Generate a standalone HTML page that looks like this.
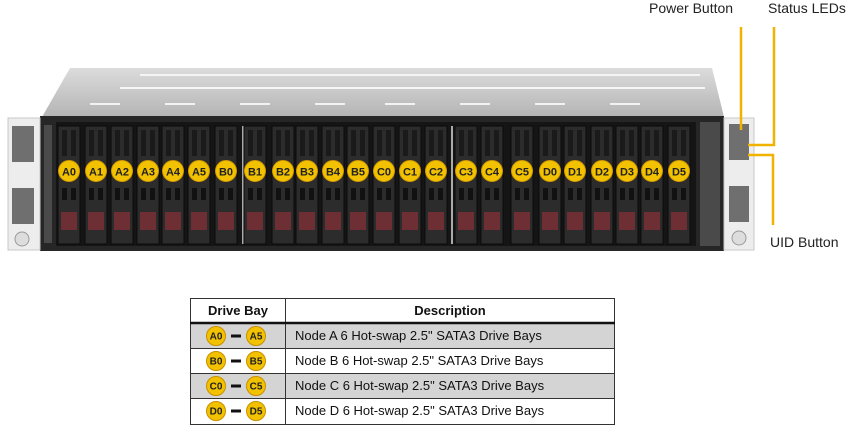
<!DOCTYPE html>
<html><head><style>
body{margin:0;background:#fff;width:866px;height:438px;overflow:hidden;font-family:"Liberation Sans",sans-serif}
</style></head><body>
<svg width="866" height="438" viewBox="0 0 866 438" xmlns="http://www.w3.org/2000/svg" font-family="Liberation Sans, sans-serif">
<defs>
<linearGradient id="top" x1="0" y1="0" x2="0" y2="1"><stop offset="0" stop-color="#dcdcdc"/><stop offset="1" stop-color="#b4b4b4"/></linearGradient>
</defs>
<polygon points="70,68 712,68 724,117 42,117" fill="url(#top)"/>
<line x1="140" y1="75" x2="700" y2="75" stroke="#f4f4f4" stroke-width="2"/>
<line x1="120" y1="88" x2="705" y2="88" stroke="#f6f6f6" stroke-width="2"/>
<g stroke="#f2f2f2" stroke-width="2">
<line x1="90" y1="104" x2="120" y2="104"/><line x1="165" y1="104" x2="195" y2="104"/><line x1="240" y1="104" x2="270" y2="104"/><line x1="315" y1="104" x2="345" y2="104"/><line x1="385" y1="104" x2="415" y2="104"/><line x1="460" y1="104" x2="490" y2="104"/><line x1="535" y1="104" x2="565" y2="104"/><line x1="610" y1="104" x2="640" y2="104"/>
</g>
<rect x="40" y="116" width="684" height="135" fill="#262626"/>
<rect x="56" y="122" width="640" height="124" fill="#151515"/>
<g fill="#4a4a4a">
<rect x="44" y="125" width="8" height="118"/>
<rect x="700" y="122" width="20" height="124"/>
</g>
<rect x="8" y="118" width="32" height="132" fill="#ededed" stroke="#c8c8c8"/>
<rect x="12" y="126" width="22" height="36" fill="#6f6f6f"/>
<rect x="12" y="188" width="22" height="36" fill="#6f6f6f"/>
<circle cx="22" cy="239" r="7" fill="#ddd" stroke="#999"/>
<rect x="724" y="118" width="30" height="132" fill="#ededed" stroke="#c8c8c8"/>
<rect x="729" y="124" width="20" height="36" fill="#6f6f6f"/>
<rect x="729" y="186" width="20" height="36" fill="#6f6f6f"/>
<circle cx="739" cy="238" r="7" fill="#ddd" stroke="#999"/>
<g id="bays"></g>
<g stroke="#f0b400" stroke-width="2.5" fill="none">
<line x1="741" y1="27" x2="741" y2="130"/>
<polyline points="774,27 774,145 748,145"/>
<polyline points="748,155 773,155 773,225"/>
</g>
<g font-size="14" fill="#222">
<text x="649" y="13">Power Button</text>
<text x="768" y="13">Status LEDs</text>
<text x="770" y="247">UID Button</text>
</g>
<rect x="190" y="323" width="425" height="25" fill="#d4d4d4"/>
<rect x="190" y="373" width="425" height="25" fill="#d4d4d4"/>
<g stroke="#333" stroke-width="1" fill="none">
<rect x="190.5" y="298.5" width="424" height="126"/>
<line x1="285.5" y1="298" x2="285.5" y2="425"/>
<line x1="190" y1="348.5" x2="615" y2="348.5"/>
<line x1="190" y1="373.5" x2="615" y2="373.5"/>
<line x1="190" y1="398.5" x2="615" y2="398.5"/>
</g>
<line x1="190" y1="323" x2="615" y2="323" stroke="#111" stroke-width="2.5"/>
<g font-size="13" font-weight="bold" fill="#111" text-anchor="middle">
<text x="238" y="315">Drive Bay</text>
<text x="450" y="315">Description</text>
</g>
<g font-size="13" fill="#111">
<text x="295" y="340">Node A 6 Hot-swap 2.5" SATA3 Drive  Bays</text>
<text x="295" y="365">Node B 6 Hot-swap 2.5" SATA3 Drive  Bays</text>
<text x="295" y="390">Node C 6 Hot-swap 2.5" SATA3 Drive  Bays</text>
<text x="295" y="415">Node D 6 Hot-swap 2.5" SATA3 Drive  Bays</text>
</g>
<g id="tbl"></g>
<script>
var ns="http://www.w3.org/2000/svg";
function el(t,a,p,txt){var e=document.createElementNS(ns,t);for(var k in a)e.setAttribute(k,a[k]);if(txt)e.textContent=txt;p.appendChild(e);return e;}
var b=document.getElementById('bays');
var xs=[69,96,122,148,173,199,226,255,283,307,333,358,384,410,436,466,492,522,550,575,602,627,652,679];
var n=["A0","A1","A2","A3","A4","A5","B0","B1","B2","B3","B4","B5","C0","C1","C2","C3","C4","C5","D0","D1","D2","D3","D4","D5"];
[243,452].forEach(function(x){el('rect',{x:x-1,y:126,width:2,height:118,fill:'#aaa'},b);});
xs.forEach(function(x,i){
 el('rect',{x:x-11,y:126,width:22,height:118,fill:'#2c2c2c',stroke:'#0a0a0a'},b);
 el('rect',{x:x-7,y:130,width:5,height:26,fill:'#1a1a1a'},b);
 el('rect',{x:x+2,y:130,width:5,height:26,fill:'#1a1a1a'},b);
 el('rect',{x:x-7,y:188,width:5,height:12,fill:'#111'},b);
 el('rect',{x:x+2,y:188,width:5,height:12,fill:'#111'},b);
 el('rect',{x:x-8,y:212,width:16,height:18,fill:'#6e2f34'},b);
 el('circle',{cx:x,cy:171,r:10.5,fill:'#f2c200',stroke:'#d49a00'},b);
 el('text',{x:x,y:175.5,'font-size':11,'font-weight':'bold','text-anchor':'middle',fill:'#222'},b,n[i]);
});
var t=document.getElementById('tbl');
["A","B","C","D"].forEach(function(L,i){var y=336+25*i;
 el('circle',{cx:216,cy:y,r:9.5,fill:'#f2c200',stroke:'#c89000'},t);
 el('text',{x:216,y:y+3.5,'font-size':10,'font-weight':'bold','text-anchor':'middle',fill:'#222'},t,L+"0");
 el('rect',{x:231,y:y-1.5,width:10,height:3,fill:'#111'},t);
 el('circle',{cx:256,cy:y,r:9.5,fill:'#f2c200',stroke:'#c89000'},t);
 el('text',{x:256,y:y+3.5,'font-size':10,'font-weight':'bold','text-anchor':'middle',fill:'#222'},t,L+"5");
});
</script>
</svg>
</body></html>
